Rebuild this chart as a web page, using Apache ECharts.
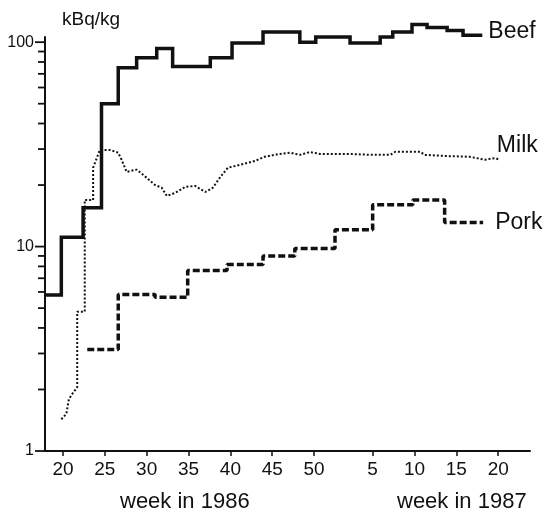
<!DOCTYPE html>
<html>
<head>
<meta charset="utf-8">
<script src="https://cdn.jsdelivr.net/npm/echarts@6/dist/echarts.min.js"></script>
<style>
  html, body { margin: 0; padding: 0; background: #fff; }
  #chart { width: 546px; height: 515px; }
</style>
</head>
<body>
<div id="chart"></div>
<script>
// Week numbers run on continuously: week n of 1987 is plotted at 52 + n.
const YEAR_WEEKS = 52;

// Beef: step series, each value holds from its week until the next one.
const beefWeeks  = [17.85, 19.8, 22.4, 24.6, 26.6, 28.8, 31.2, 33.1, 37.6, 40.2, 43.9, 48.3, 50.2, 54.3, 57.9, 59.4, 61.7, 63.5, 65.9, 67.8, 70.1];
const beefValues = [5.8, 11.1, 15.5, 50, 75, 84, 93, 76, 84, 99, 112, 100, 106, 99, 106, 112, 122, 118, 114, 108, 108];

// Milk: measured trace (repeated weeks are vertical jumps).
const milkWeeks  = [19.8, 20.4, 20.7, 21.1, 21.7, 21.7, 22.6, 22.6, 23.6, 23.6, 24.4, 25.6, 26.6, 27.0, 27.6, 28.8, 30.0, 31.0, 31.8, 32.4, 33.4, 34.6, 35.8, 37.0, 37.9, 38.8, 39.7, 41.1, 42.9, 44.1, 45.9, 47.1, 48.3, 49.5, 50.7, 52.5, 54.3, 56.7, 59.1, 59.7, 62.7, 63.2, 66.2, 68.6, 70.4, 71.6, 72.2];
const milkValues = [1.43, 1.52, 1.79, 1.90, 2.05, 4.8, 4.8, 16.9, 16.9, 24.3, 29.7, 29.7, 28.8, 26.6, 23.2, 23.8, 21.7, 20.0, 19.4, 17.7, 18.3, 19.6, 19.8, 18.5, 19.4, 21.9, 24.3, 25.1, 26.2, 27.5, 28.4, 28.8, 28.1, 29.0, 28.4, 28.4, 28.4, 28.1, 28.1, 29.1, 29.1, 28.1, 27.7, 27.5, 26.6, 27.1, 26.6];

// Pork: step series.
const porkWeeks  = [22.9, 26.6, 31.0, 34.9, 39.6, 43.9, 47.7, 52.5, 57.0, 61.8, 65.6, 70.2];
const porkValues = [3.14, 5.83, 5.65, 7.64, 8.17, 9.0, 9.8, 12.1, 16.0, 16.9, 13.1, 13.1];

// Axis ticks and labels.
const xTickWeeks  = [20, 25, 30, 35, 40, 45, 50, 57, 62, 67, 72];
const xTickLabels = ['20', '25', '30', '35', '40', '45', '50', '5', '10', '15', '20'];
const yMajorTicks = [1, 10, 100];
const yMinorTicks = [2, 3, 4, 5, 6, 7, 8, 9, 20, 30, 40, 50, 60, 70, 80, 90];

const X_MIN = 17.85;
const X_MAX = 75.8;

const zip = (xs, ys) => xs.map((x, i) => [x, ys[i]]);

const FONT = '"Liberation Sans", Arial, Helvetica, sans-serif';
const INK = '#111';

const chart = echarts.init(document.getElementById('chart'), null, { renderer: 'canvas' });

const endLabel = (offset, distance) => ({
  show: true,
  formatter: '{a}',
  fontFamily: FONT,
  fontSize: 23,
  color: INK,
  distance: distance,
  offset: offset
});

chart.setOption({
  animation: false,
  backgroundColor: '#fff',
  grid: { left: 45, right: 16, top: 37, bottom: 64 },
  xAxis: {
    type: 'value',
    min: X_MIN,
    max: X_MAX,
    splitLine: { show: false },
    axisLine: { show: true, lineStyle: { color: INK, width: 2 } },
    axisTick: {
      show: true, length: 5, inside: false,
      customValues: xTickWeeks,
      lineStyle: { color: INK, width: 1.5 }
    },
    axisLabel: {
      customValues: xTickWeeks,
      margin: 9,
      fontFamily: FONT,
      fontSize: 19,
      color: INK,
      formatter: v => {
        const i = xTickWeeks.indexOf(v);
        return i >= 0 ? xTickLabels[i] : String(v > YEAR_WEEKS ? v - YEAR_WEEKS : v);
      }
    }
  },
  yAxis: {
    type: 'log',
    logBase: 10,
    min: 1,
    max: 106,
    splitLine: { show: false },
    minorTick: { show: false },
    axisLine: { show: true, lineStyle: { color: INK, width: 2 } },
    axisTick: { show: false },
    axisLabel: {
      margin: 11,
      fontFamily: FONT,
      fontSize: 16,
      color: INK,
      formatter: v => (yMajorTicks.indexOf(Math.round(v)) >= 0 ? String(Math.round(v)) : '')
    }
  },
  series: [
    {
      name: 'Beef',
      type: 'line',
      step: 'end',
      clip: false,
      symbol: 'none',
      data: zip(beefWeeks, beefValues),
      lineStyle: { color: INK, width: 3.5, join: 'miter', cap: 'butt' },
      endLabel: endLabel([0, -4], 6)
    },
    {
      name: 'Milk',
      type: 'line',
      clip: false,
      symbol: 'none',
      data: zip(milkWeeks, milkValues),
      lineStyle: { color: INK, width: 2, type: [2, 2] },
      endLabel: endLabel([-3, -14], 0)
    },
    {
      name: 'Pork',
      type: 'line',
      step: 'end',
      clip: false,
      symbol: 'none',
      data: zip(porkWeeks, porkValues),
      lineStyle: { color: INK, width: 3.5, type: [7, 3] },
      endLabel: endLabel([0, 0], 12)
    }
  ]
});

// Log-decade tick marks on the left of the y axis, placed through the axis scale.
function tickMarks(values, len) {
  return values.map(v => {
    const p = chart.convertToPixel({ xAxisIndex: 0, yAxisIndex: 0 }, [X_MIN, v]);
    return {
      type: 'line',
      shape: { x1: p[0] - len, y1: p[1], x2: p[0], y2: p[1] },
      style: { stroke: INK, lineWidth: 1.8 }
    };
  });
}

chart.setOption({
  graphic: [
    { type: 'text', left: 62, top: 10, style: { text: 'kBq/kg', font: '19px ' + FONT, fill: INK } },
    { type: 'text', left: 120, top: 491, style: { text: 'week in 1986', font: '22px ' + FONT, fill: INK } },
    { type: 'text', left: 397, top: 491, style: { text: 'week in 1987', font: '22px ' + FONT, fill: INK } }
  ].concat(tickMarks(yMajorTicks, 10), tickMarks(yMinorTicks, 7))
});
</script>
</body>
</html>
